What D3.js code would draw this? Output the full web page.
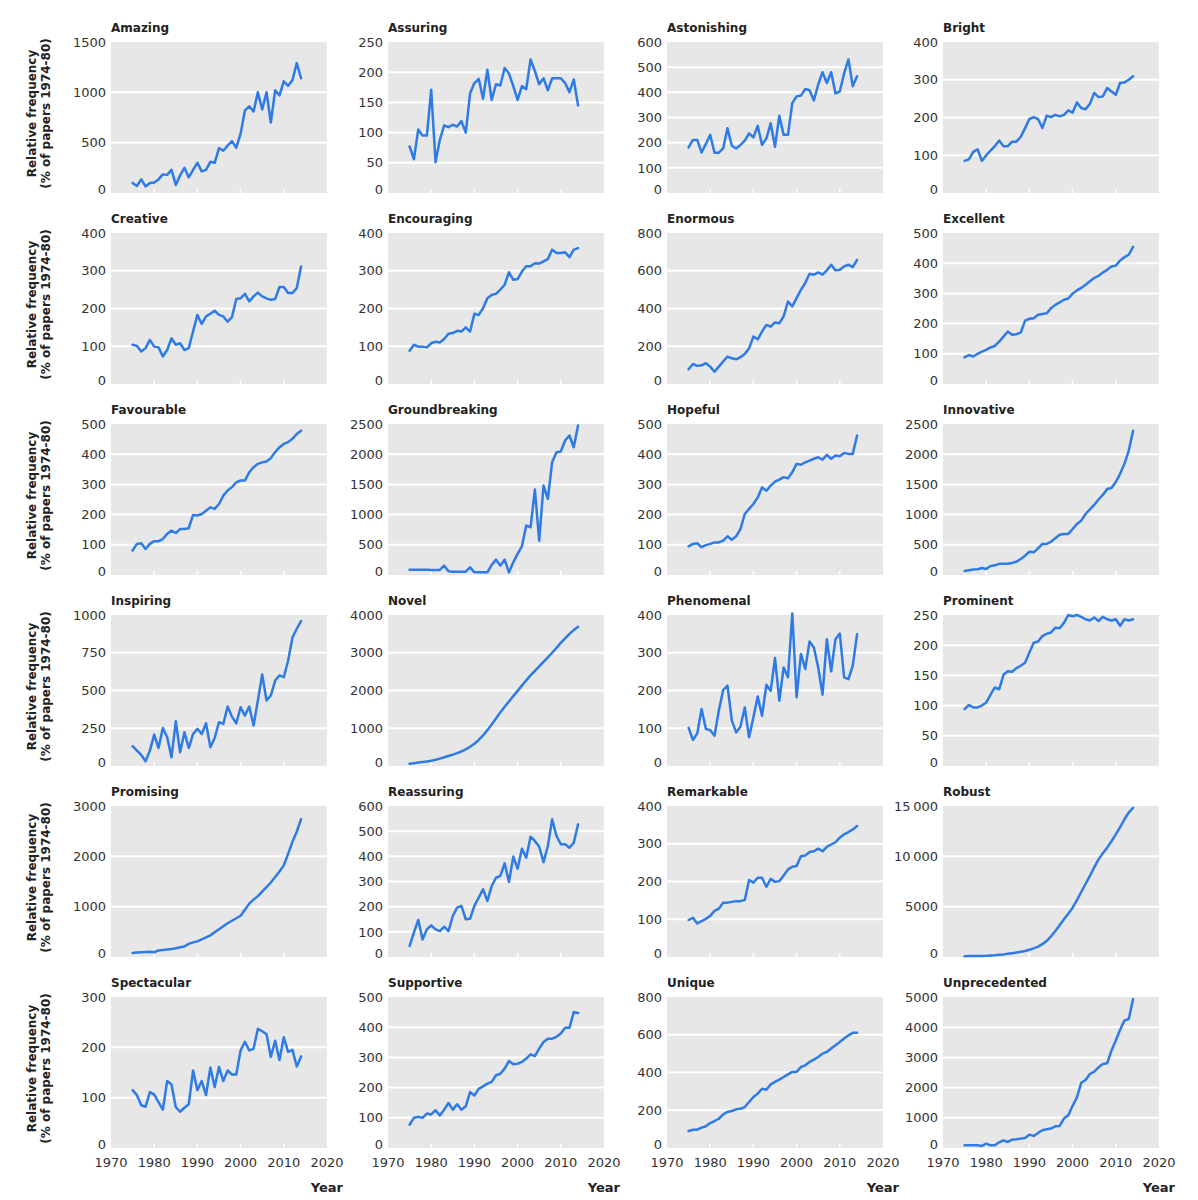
<!DOCTYPE html>
<html>
<head>
<meta charset="utf-8">
<script src="https://cdn.jsdelivr.net/npm/d3@7"></script>
<style>
  body { margin: 0; background: #fff; }
  text { font-family: "DejaVu Sans", sans-serif; }
</style>
</head>
<body>
<div id="chart"></div>
<script>
const years = [1975, 1976, 1977, 1978, 1979, 1980, 1981, 1982, 1983, 1984,
               1985, 1986, 1987, 1988, 1989, 1990, 1991, 1992, 1993, 1994,
               1995, 1996, 1997, 1998, 1999, 2000, 2001, 2002, 2003, 2004,
               2005, 2006, 2007, 2008, 2009, 2010, 2011, 2012, 2013, 2014];

const words = ["Amazing", "Assuring", "Astonishing", "Bright",
               "Creative", "Encouraging", "Enormous", "Excellent",
               "Favourable", "Groundbreaking", "Hopeful", "Innovative",
               "Inspiring", "Novel", "Phenomenal", "Prominent",
               "Promising", "Reassuring", "Remarkable", "Robust",
               "Spectacular", "Supportive", "Unique", "Unprecedented"];

// top of y axis and tick step for each panel, same order as words
const yMaxima = [1500, 250, 600, 400, 400, 400, 800, 500, 500, 2500, 500, 2500,
                 1000, 4000, 400, 250, 3000, 600, 400, 15000, 300, 500, 800, 5000];
const yTickSteps = [500, 50, 100, 100, 100, 100, 200, 100, 100, 500, 100, 500,
                    250, 1000, 100, 50, 1000, 100, 100, 5000, 100, 100, 200, 1000];

const xTicks = [1970, 1980, 1990, 2000, 2010, 2020];

const amazing = [100, 70, 135, 65, 100, 105, 135, 185, 180, 230, 80, 175, 250, 155, 230, 300, 215, 230, 310, 300,
                 445, 420, 470, 515, 450, 590, 820, 860, 810, 1000, 830, 1000, 700, 1020, 970, 1110, 1065, 1120, 1290, 1140];
const assuring = [77, 56, 105, 95, 95, 171, 51, 88, 112, 109, 113, 110, 119, 100, 165, 182, 189, 156, 204, 154,
                  180, 178, 207, 198, 177, 154, 177, 172, 221, 202, 180, 190, 170, 190, 190, 190, 182, 167, 188, 145];
const astonishing = [181, 211, 211, 161, 195, 231, 160, 160, 177, 257, 188, 177, 191, 208, 237, 221, 267, 191, 217, 277,
                     184, 307, 231, 231, 357, 384, 387, 413, 408, 368, 431, 480, 437, 480, 395, 404, 475, 531, 424, 464];
const bright = [85, 89, 109, 116, 85, 100, 112, 124, 139, 124, 124, 136, 136, 149, 172, 196, 201, 196, 172, 205,
                201, 207, 203, 207, 219, 213, 240, 225, 222, 236, 265, 254, 256, 278, 269, 260, 292, 293, 300, 309];
const creative = [104, 101, 86, 95, 117, 99, 97, 73, 90, 121, 104, 108, 90, 95, 139, 183, 159, 179, 186, 194,
                  183, 179, 165, 177, 225, 227, 239, 219, 232, 242, 232, 227, 223, 225, 257, 257, 241, 241, 254, 311];
const encouraging = [88, 104, 99, 99, 97, 108, 112, 110, 119, 133, 135, 141, 139, 150, 139, 186, 183, 201, 227, 236,
                     239, 250, 263, 296, 276, 278, 298, 312, 312, 320, 319, 325, 331, 356, 347, 347, 349, 336, 356, 360];
const enormous = [78, 106, 96, 99, 110, 92, 65, 92, 119, 145, 136, 131, 142, 159, 189, 251, 237, 278, 313, 304,
                  326, 322, 358, 437, 411, 455, 499, 535, 584, 579, 591, 579, 602, 632, 602, 605, 623, 632, 619, 658];
const excellent = [88, 96, 91, 100, 107, 113, 121, 126, 140, 157, 174, 163, 165, 170, 210, 216, 218, 229, 232, 234,
                   251, 262, 270, 279, 283, 299, 310, 318, 329, 340, 351, 358, 369, 378, 389, 392, 409, 420, 428, 454];
const favourable = [81, 103, 105, 86, 103, 112, 112, 119, 136, 147, 139, 152, 152, 155, 199, 197, 202, 213, 224, 219,
                    235, 263, 280, 291, 307, 313, 313, 340, 357, 368, 373, 376, 387, 407, 423, 434, 440, 451, 467, 478];
const groundbreaking = [88, 88, 88, 88, 85, 83, 83, 83, 155, 61, 55, 55, 55, 55, 127, 44, 44, 44, 44, 166,
                        254, 155, 254, 44, 210, 350, 475, 818, 790, 1414, 569, 1480, 1260, 1867, 2033, 2044, 2227, 2309, 2116, 2475];
const hopeful = [95, 103, 105, 92, 99, 103, 108, 108, 114, 128, 117, 128, 152, 202, 219, 235, 257, 290, 279, 296,
                 309, 316, 324, 320, 340, 368, 365, 373, 379, 385, 390, 382, 398, 385, 396, 393, 404, 401, 401, 462];
const innovative = [65, 80, 90, 95, 115, 100, 150, 160, 185, 185, 185, 200, 220, 265, 320, 385, 375, 440, 515, 515,
                    550, 610, 665, 680, 680, 760, 845, 900, 1010, 1085, 1160, 1250, 1325, 1425, 1440, 1540, 1675, 1840, 2060, 2390];
const inspiring = [131, 102, 73, 31, 102, 208, 119, 252, 190, 58, 296, 91, 223, 119, 212, 246, 212, 283, 124, 186,
                   290, 279, 394, 327, 283, 389, 334, 394, 268, 434, 606, 434, 467, 566, 600, 588, 699, 850, 909, 960];
const novel = [60, 75, 90, 105, 120, 140, 165, 195, 230, 265, 300, 340, 385, 440, 510, 590, 690, 810, 950, 1100,
               1260, 1420, 1570, 1710, 1850, 1990, 2130, 2270, 2400, 2520, 2640, 2760, 2880, 3000, 3130, 3260, 3380, 3500, 3600, 3690];
const phenomenal = [101, 69, 86, 151, 98, 95, 80, 147, 201, 213, 121, 89, 104, 155, 76, 129, 184, 133, 215, 199,
                    286, 173, 261, 235, 404, 182, 297, 257, 330, 314, 261, 189, 336, 251, 336, 351, 235, 230, 266, 349];
const prominent = [94, 101, 97, 97, 100, 105, 118, 130, 127, 151, 157, 156, 162, 166, 171, 188, 204, 206, 215, 219,
                   221, 229, 228, 237, 250, 248, 250, 247, 243, 241, 246, 240, 247, 243, 241, 243, 232, 243, 241, 243];
const promising = [80, 90, 95, 100, 105, 95, 130, 140, 150, 160, 175, 195, 210, 260, 290, 310, 350, 390, 430, 490,
                   550, 610, 670, 720, 770, 820, 940, 1060, 1140, 1210, 1300, 1390, 1480, 1590, 1700, 1820, 2050, 2290, 2490, 2740];
const reassuring = [44, 97, 147, 70, 110, 126, 110, 103, 121, 103, 163, 196, 203, 150, 152, 203, 236, 269, 223, 282,
                    315, 322, 372, 298, 399, 351, 430, 395, 478, 461, 438, 377, 441, 547, 481, 448, 448, 434, 454, 527];
const remarkable = [98, 104, 89, 95, 101, 109, 122, 128, 144, 144, 146, 148, 148, 151, 204, 197, 210, 210, 186, 207,
                    199, 201, 216, 232, 239, 241, 267, 269, 278, 280, 287, 280, 292, 298, 304, 316, 325, 331, 338, 347];
const robust = [80, 90, 100, 110, 105, 120, 150, 180, 220, 260, 320, 380, 440, 520, 600, 720, 860, 1030, 1280, 1590,
                2050, 2580, 3150, 3740, 4300, 4900, 5650, 6460, 7250, 8050, 8900, 9700, 10300, 10860, 11500, 12190, 12900, 13680, 14350, 14830];
const spectacular = [115, 105, 85, 82, 111, 106, 91, 76, 133, 126, 81, 72, 80, 87, 154, 115, 133, 105, 160, 121,
                     161, 133, 154, 146, 146, 194, 211, 194, 197, 237, 232, 226, 181, 213, 175, 220, 191, 195, 162, 182];
const supportive = [77, 100, 103, 100, 114, 111, 125, 108, 127, 149, 127, 145, 127, 138, 185, 174, 196, 204, 213, 219,
                    241, 246, 263, 288, 277, 279, 285, 296, 310, 304, 329, 351, 362, 362, 368, 379, 398, 398, 450, 447];
const unique = [90, 97, 97, 108, 115, 132, 143, 155, 178, 191, 196, 205, 208, 217, 244, 270, 288, 314, 309, 337,
                350, 362, 376, 390, 403, 403, 429, 438, 456, 468, 482, 500, 509, 527, 544, 562, 580, 597, 610, 610];
const unprecedented = [89, 89, 89, 89, 70, 144, 89, 89, 188, 255, 200, 277, 288, 310, 333, 443, 400, 500, 588, 621,
                       643, 720, 732, 976, 1086, 1397, 1674, 2161, 2250, 2450, 2528, 2672, 2783, 2805, 3226, 3559, 3914, 4224, 4268, 4933];

const series = [amazing, assuring, astonishing, bright, creative, encouraging, enormous, excellent,
                favourable, groundbreaking, hopeful, innovative, inspiring, novel, phenomenal, prominent,
                promising, reassuring, remarkable, robust, spectacular, supportive, unique, unprecedented];

let svg = null;
let colLefts = null,
    rowTops = null,
    panelWidth = null,
    panelHeight = null;

setupLayout();
appendSvg();
words.forEach(function(word, i) { drawPanel(i); });
addYTitles();

function setupLayout() {
  colLefts = [111, 388, 667, 943];
  rowTops = [42, 233, 424, 615, 806, 997];
  panelWidth = 216;
  panelHeight = 151;
}

function appendSvg() {
  svg = d3.select("#chart")
    .append("svg")
    .attr("width", 1198)
    .attr("height", 1200);
}

function formatTick(v) {
  if (v >= 10000) return d3.format(",")(v).replace(",", "\u2009");
  return String(v);
}

function drawPanel(i) {
  var col = i % 4,
      row = Math.floor(i / 4);
  var left = colLefts[col],
      top = rowTops[row],
      bottom = top + panelHeight;

  var x = d3.scaleLinear().domain([1970, 2020]).range([left, left + panelWidth]);
  var y = d3.scaleLinear().domain([0, yMaxima[i]]).range([bottom, top]);
  var yTicks = d3.range(0, yMaxima[i] + 1, yTickSteps[i]);

  var g = svg.append("g").attr("class", "panel");

  g.append("rect")
    .attr("x", left)
    .attr("y", top)
    .attr("width", panelWidth)
    .attr("height", panelHeight)
    .style("fill", "#e7e7e7");

  // white gridlines
  g.selectAll("line.grid")
    .data(yTicks.filter(t => t > 0 && t < yMaxima[i]))
    .enter().append("line")
    .attr("class", "grid")
    .attr("x1", left)
    .attr("x2", left + panelWidth)
    .attr("y1", d => y(d))
    .attr("y2", d => y(d))
    .style("stroke", "#fff")
    .style("stroke-width", 2);

  // small white year ticks on the bottom edge
  g.selectAll("line.xtick")
    .data(xTicks.slice(1, -1))
    .enter().append("line")
    .attr("class", "xtick")
    .attr("x1", d => x(d))
    .attr("x2", d => x(d))
    .attr("y1", bottom)
    .attr("y2", bottom - 4)
    .style("stroke", "#fff")
    .style("stroke-width", 1.5);

  g.selectAll("text.ytick")
    .data(yTicks)
    .enter().append("text")
    .attr("class", "ytick")
    .attr("x", left - 5)
    .attr("y", d => d === 0 ? y(d) - 4 : y(d))
    .attr("dy", "0.36em")
    .attr("text-anchor", "end")
    .style("font-size", "13px")
    .style("fill", "#333")
    .text(formatTick);

  g.append("text")
    .attr("x", left)
    .attr("y", top - 10)
    .style("font-size", "12px")
    .style("font-weight", "bold")
    .style("fill", "#222")
    .text(words[i]);

  var line = d3.line()
    .x((d, j) => x(years[j]))
    .y(d => y(d));

  g.append("path")
    .datum(series[i])
    .attr("d", line)
    .style("fill", "none")
    .style("stroke", "#2e7be6")
    .style("stroke-width", 2.5)
    .style("stroke-linejoin", "round")
    .style("stroke-linecap", "round");

  if (row === 5) {
    g.selectAll("text.xlabel")
      .data(xTicks)
      .enter().append("text")
      .attr("class", "xlabel")
      .attr("x", d => x(d))
      .attr("y", bottom + 19)
      .attr("text-anchor", "middle")
      .style("font-size", "13px")
      .style("fill", "#333")
      .text(d => d);

    g.append("text")
      .attr("x", left + panelWidth + 16)
      .attr("y", bottom + 44)
      .attr("text-anchor", "end")
      .style("font-size", "13px")
      .style("font-weight", "bold")
      .style("fill", "#222")
      .text("Year");
  }
}

function addYTitles() {
  rowTops.forEach(function(top) {
    var t = svg.append("g")
      .attr("transform", "translate(36," + (top + panelHeight / 2 - 4) + ") rotate(-90)");
    t.append("text")
      .attr("text-anchor", "middle")
      .style("font-size", "12px")
      .style("font-weight", "bold")
      .style("fill", "#222")
      .text("Relative frequency");
    t.append("text")
      .attr("y", 14)
      .attr("text-anchor", "middle")
      .style("font-size", "12px")
      .style("font-weight", "bold")
      .style("fill", "#222")
      .text("(% of papers 1974-80)");
  });
}
</script>
</body>
</html>
